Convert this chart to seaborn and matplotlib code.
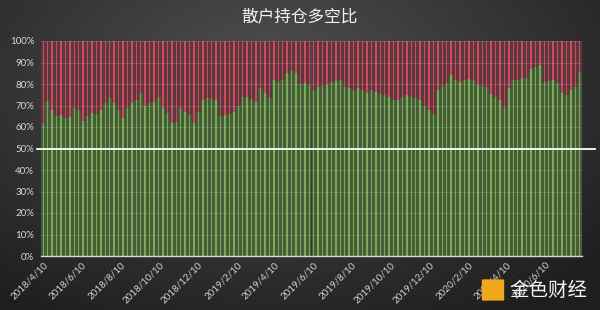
import numpy as np
import pandas as pd
import matplotlib
matplotlib.use("Agg")
import matplotlib.pyplot as plt
from matplotlib.patches import FancyBboxPatch
import seaborn as sns

# ---- data ----
start_date = "2018-04-10"
long_pct = [
    62, 72, 68, 65, 65.5, 64, 64.5, 69, 68, 63,
    65, 66.5, 66, 68, 71, 73.5, 71, 68, 64, 69,
    71, 72.5, 76, 70, 71, 71.5, 74, 69, 66.5, 62,
    62.5, 69, 67, 65.5, 62, 67, 72.5, 73.5, 73, 72.5,
    65, 65.5, 66, 67, 70, 74, 74, 73, 71.5, 78,
    76, 73.5, 82, 81, 82, 85, 86, 85, 80, 80.5,
    79.5, 77, 78.5, 79, 79.5, 81, 81.5, 82, 78.5, 78,
    77, 78, 77, 76, 77, 76.5, 75.5, 75, 74, 72.5,
    72.5, 74, 75, 74, 73.5, 72.5, 70, 68, 66, 77,
    79, 80.5, 84, 82, 81, 82, 82.5, 82, 79.5, 79,
    78.5, 75.5, 74, 72.5, 69, 78, 82, 82, 83, 83,
    87, 88, 89, 81, 81.5, 82, 80.5, 76, 75, 77,
    78.5, 85.5,
]
total_pct = [100] * len(long_pct)
tick_dates = ["2018-04-10", "2018-06-10", "2018-08-10", "2018-10-10", "2018-12-10",
              "2019-02-10", "2019-04-10", "2019-06-10", "2019-08-10", "2019-10-10",
              "2019-12-10", "2020-02-10", "2020-04-10", "2020-06-10"]
tick_labels = ["2018/4/10", "2018/6/10", "2018/8/10", "2018/10/10", "2018/12/10",
               "2019/2/10", "2019/4/10", "2019/6/10", "2019/8/10", "2019/10/10",
               "2019/12/10", "2020/2/10", "2020/4/10", "2020/6/10"]
y_ticks = [0, 10, 20, 30, 40, 50, 60, 70, 80, 90, 100]
title = "散户持仓多空比"

df = pd.DataFrame({"week": np.arange(len(long_pct)), "long": long_pct, "total": total_pct})

# ---- figure ----
fig = plt.figure(figsize=(6.0, 3.1), dpi=100)

# background radial gradient
bg = fig.add_axes([0, 0, 1, 1], zorder=-10)
gy, gx = np.mgrid[0:1:310j, 0:1:600j]
r = np.sqrt(((gx - 0.45) / 0.75) ** 2 + ((gy - 0.25) / 0.9) ** 2)
r = np.clip(r, 0, 1)
c0 = np.array([0x50, 0x50, 0x50]) / 255
c1 = np.array([0x1e, 0x1e, 0x1e]) / 255
img = c0[None, None, :] * (1 - r[..., None]) + c1[None, None, :] * r[..., None]
bg.imshow(img, aspect="auto", extent=[0, 1, 0, 1], origin="upper")
bg.axis("off")

ax = fig.add_axes([41 / 600, 1 - 256 / 310, 541 / 600, 215 / 310])
ax.set_facecolor("none")

# short (red) part: full-height bars underneath
sns.barplot(data=df, x="week", y="total", color="#5e363d", width=1.0,
            saturation=1, ax=ax, zorder=1, linewidth=0)
sns.barplot(data=df, x="week", y="total", color="#cc4c5e", width=0.32,
            saturation=1, ax=ax, zorder=2, linewidth=0)
# long (green) part
sns.barplot(data=df, x="week", y="long", color="#445d38", width=1.0,
            saturation=1, ax=ax, zorder=3, linewidth=0)
sns.barplot(data=df, x="week", y="long", color="#7daa55", width=0.32,
            saturation=1, ax=ax, zorder=4, linewidth=0)

ax.set_ylim(0, 100)
ax.set_xlim(-0.5, len(long_pct) - 0.5)
ax.set_yticks(y_ticks)
ax.set_yticklabels([f"{v}%" for v in y_ticks])

t0 = pd.Timestamp(start_date)
tick_pos = [(pd.Timestamp(d) - t0).days / 7 for d in tick_dates]
ax.set_xticks(tick_pos)
ax.set_xticklabels(tick_labels, rotation=45, ha="right", rotation_mode="anchor")

for lab in ax.get_yticklabels():
    lab.set_fontfamily("Lato")
    lab.set_fontsize(7)
    lab.set_color("#d8d8d8")
for lab in ax.get_xticklabels():
    lab.set_fontfamily("Lato")
    lab.set_fontsize(7)
    lab.set_color("#d0d0d0")
ax.tick_params(axis="both", length=0, pad=3)
ax.tick_params(axis="y", pad=5)

ax.set_xlabel("")
ax.set_ylabel("")
for s in ["top", "right", "left"]:
    ax.spines[s].set_visible(False)
ax.spines["bottom"].set_color("#d8d8d8")
ax.spines["bottom"].set_linewidth(1.0)
ax.spines["bottom"].set_zorder(10)

# faint gridlines over bars
for v in y_ticks[1:]:
    ax.axhline(v, color="white", alpha=0.15, lw=0.6, zorder=6)
# 50% reference line
ax.axhline(50, xmin=-0.008, xmax=1.024, color="white", lw=1.3, zorder=8, clip_on=False)

fig.text(0.5, 1 - 17 / 310, title, ha="center", va="center", color="#f2f2f2",
         fontsize=12, family=["Noto Sans CJK SC", "DejaVu Sans"])

# watermark
logo = FancyBboxPatch((483 / 600, 1 - 300 / 310), 20 / 600, 20 / 310,
                      boxstyle="round,pad=0.002", transform=fig.transFigure,
                      facecolor="#f0a81c", edgecolor="none", zorder=20)
fig.add_artist(logo)
fig.text(548 / 600, 1 - 290 / 310, "金色财经", ha="center", va="center", color="#f4f4f4",
         fontsize=14, family=["Noto Sans CJK SC", "DejaVu Sans"], zorder=21)

fig.savefig("out.png", dpi=100)
